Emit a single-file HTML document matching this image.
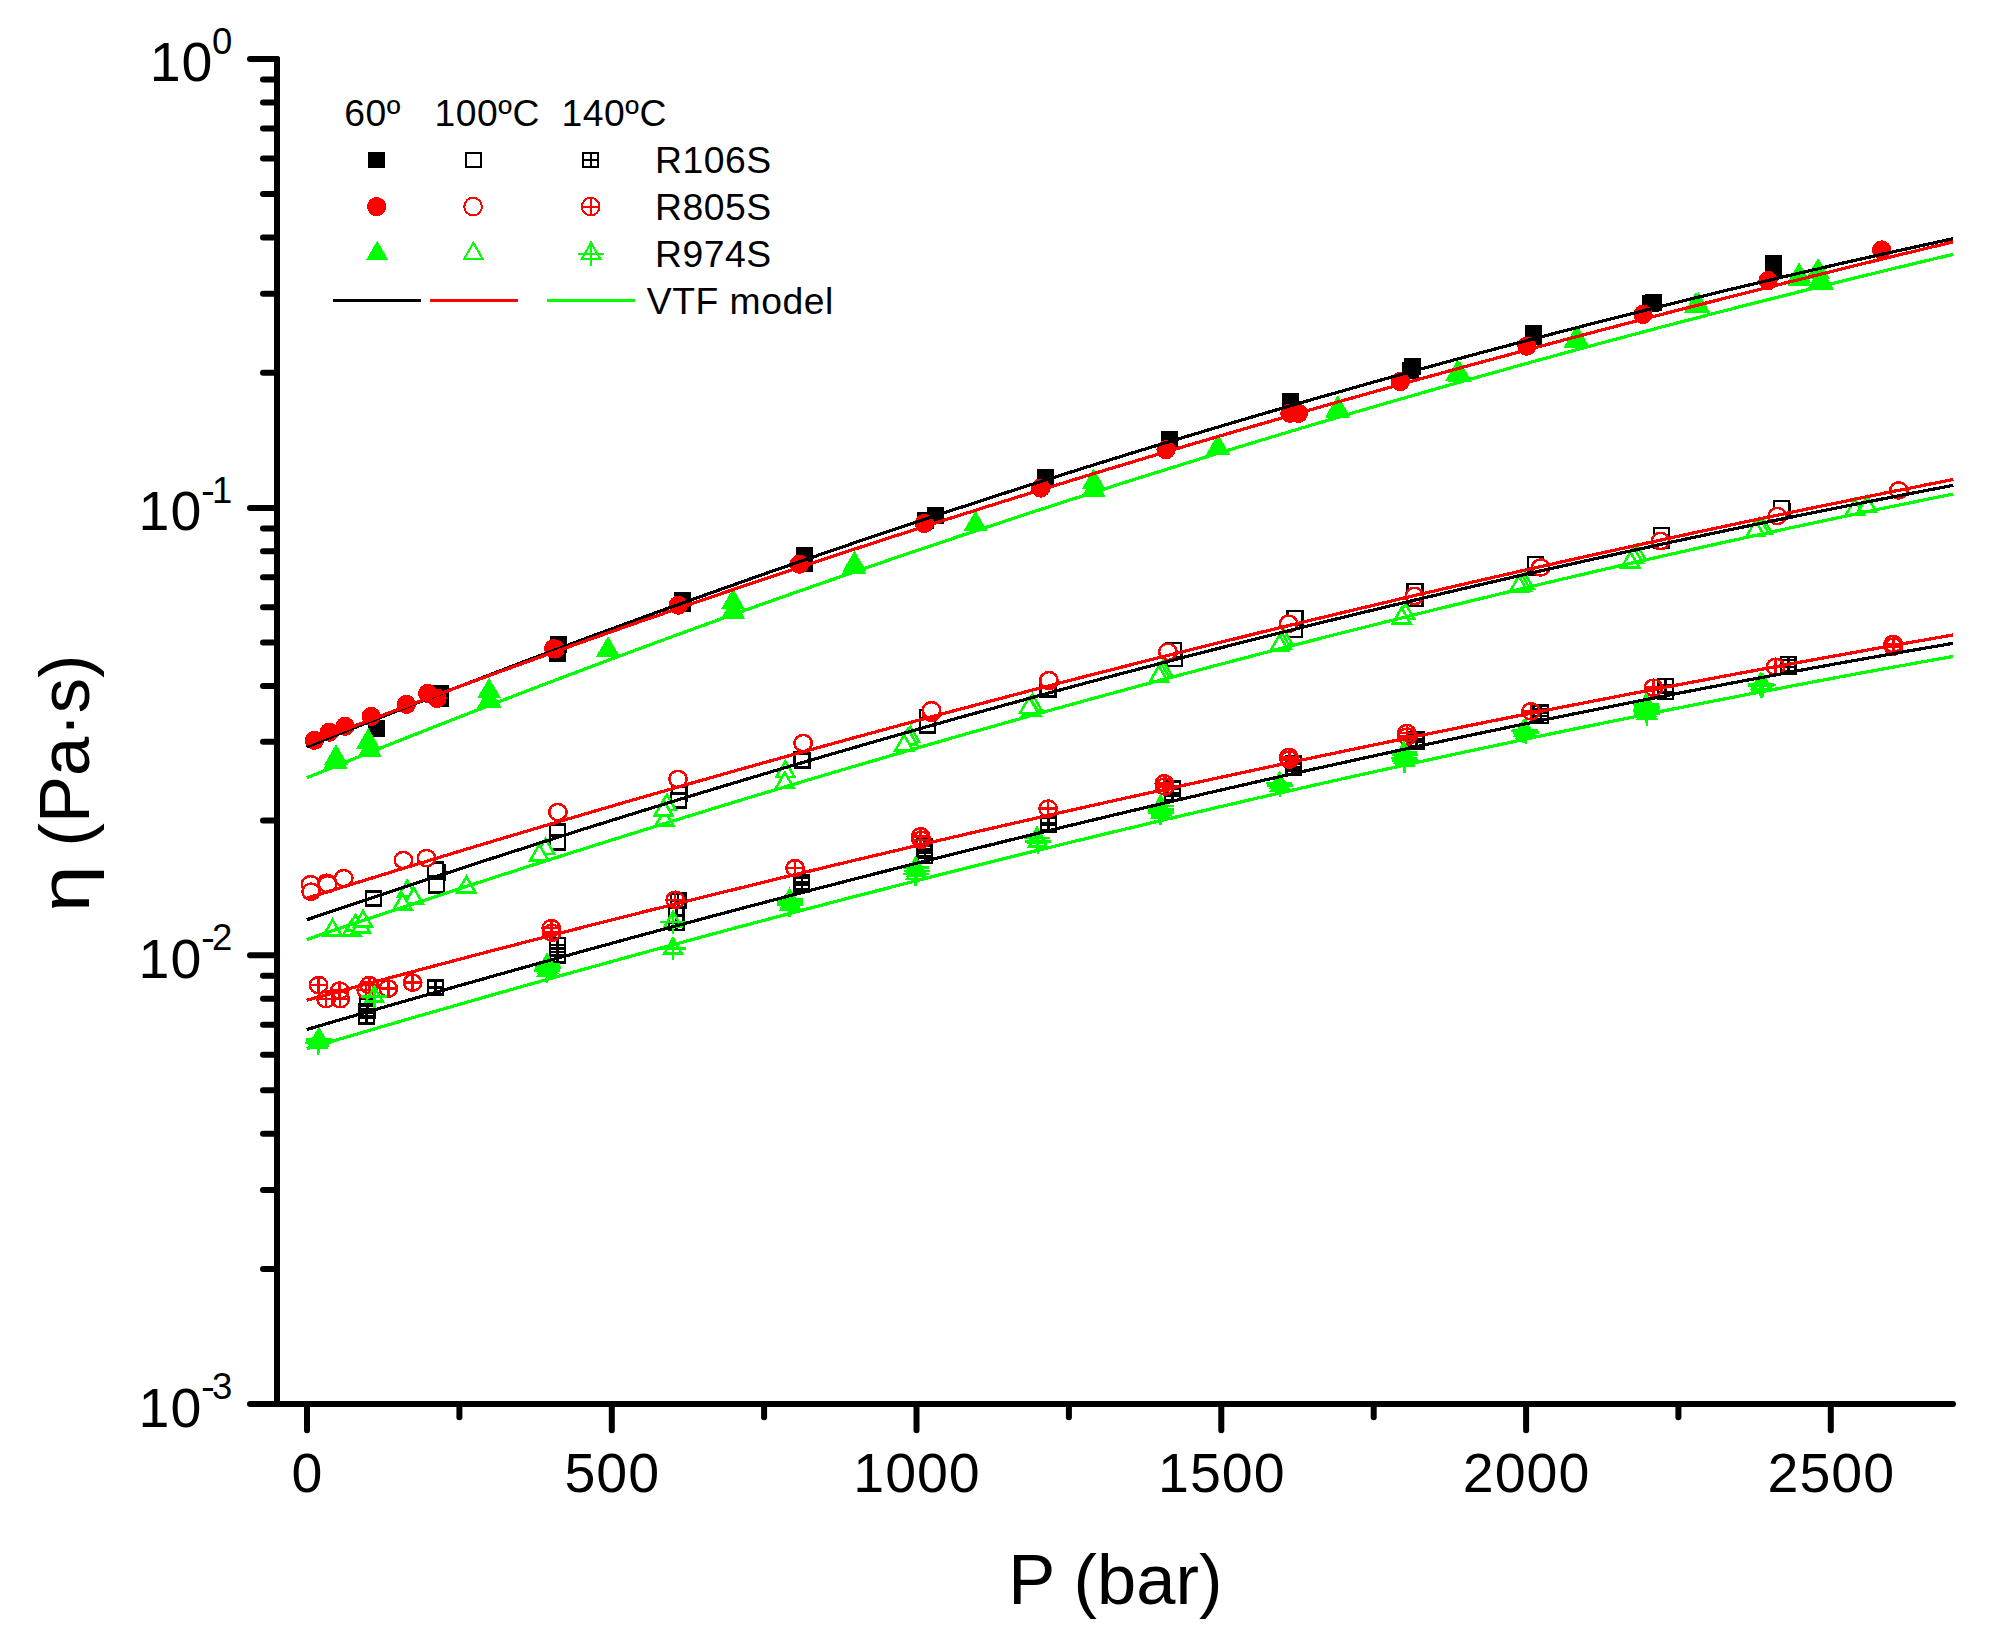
<!DOCTYPE html>
<html><head><meta charset="utf-8"><title>Viscosity vs pressure</title>
<style>html,body{margin:0;padding:0;background:#fff}svg{display:block}</style></head>
<body>
<svg width="1994" height="1634" viewBox="0 0 1994 1634" style="display:block">
<rect width="1994" height="1634" fill="#fff"/>
<g shape-rendering="crispEdges">
<g fill="#000" stroke="none"><rect x="368.0" y="720.3" width="17.0" height="16.5"/><rect x="432.1" y="685.1" width="17.0" height="16.5"/><rect x="432.1" y="690.5" width="17.0" height="16.5"/><rect x="550.1" y="636.1" width="17.0" height="16.5"/><rect x="549.2" y="645.4" width="17.0" height="16.5"/><rect x="673.5" y="591.9" width="17.0" height="16.5"/><rect x="673.5" y="595.7" width="17.0" height="16.5"/><rect x="796.0" y="547.0" width="17.0" height="16.5"/><rect x="796.0" y="555.5" width="17.0" height="16.5"/><rect x="927.1" y="507.1" width="17.0" height="16.5"/><rect x="916.7" y="512.2" width="17.0" height="16.5"/><rect x="1037.0" y="469.3" width="17.0" height="16.5"/><rect x="1160.6" y="431.1" width="17.0" height="16.5"/><rect x="1281.6" y="393.0" width="17.0" height="16.5"/><rect x="1403.6" y="358.2" width="17.0" height="16.5"/><rect x="1401.7" y="362.1" width="17.0" height="16.5"/><rect x="1524.5" y="324.9" width="17.0" height="16.5"/><rect x="1524.5" y="328.1" width="17.0" height="16.5"/><rect x="1645.4" y="294.1" width="17.0" height="16.5"/><rect x="1642.0" y="295.1" width="17.0" height="16.5"/><rect x="1765.0" y="255.0" width="17.0" height="16.5"/><rect x="1765.0" y="260.4" width="17.0" height="16.5"/></g>
<g fill="#f00" stroke="none"><circle cx="314.4" cy="740.3" r="9.6"/><circle cx="329.3" cy="732.2" r="9.6"/><circle cx="345.1" cy="726.3" r="9.6"/><circle cx="371.2" cy="716.4" r="9.6"/><circle cx="406.4" cy="704.4" r="9.6"/><circle cx="427.7" cy="693.4" r="9.6"/><circle cx="437.1" cy="698.4" r="9.6"/><circle cx="553.6" cy="648.6" r="9.6"/><circle cx="555.2" cy="649.0" r="9.6"/><circle cx="678.2" cy="605.2" r="9.6"/><circle cx="799.4" cy="564.2" r="9.6"/><circle cx="924.3" cy="523.5" r="9.6"/><circle cx="1040.6" cy="488.1" r="9.6"/><circle cx="1166.0" cy="449.7" r="9.6"/><circle cx="1289.8" cy="413.3" r="9.6"/><circle cx="1298.5" cy="413.3" r="9.6"/><circle cx="1400.4" cy="381.5" r="9.6"/><circle cx="1526.9" cy="346.1" r="9.6"/><circle cx="1643.0" cy="314.4" r="9.6"/><circle cx="1768.0" cy="280.6" r="9.6"/><circle cx="1881.6" cy="249.9" r="9.6"/></g>
<g fill="#0f0" stroke="none"><path d="M336.0 744.1 L348.0 764.9 H324.0 Z"/><path d="M335.5 747.9 L347.5 768.7 H323.5 Z"/><path d="M368.2 727.9 L380.2 748.7 H356.2 Z"/><path d="M369.7 736.2 L381.7 757.0 H357.7 Z"/><path d="M489.1 677.6 L501.1 698.4 H477.1 Z"/><path d="M489.3 686.7 L501.3 707.5 H477.3 Z"/><path d="M608.0 636.0 L620.0 656.8 H596.0 Z"/><path d="M733.0 588.4 L745.0 609.2 H721.0 Z"/><path d="M733.0 597.7 L745.0 618.5 H721.0 Z"/><path d="M854.5 550.6 L866.5 571.4 H842.5 Z"/><path d="M854.0 553.1 L866.0 573.9 H842.0 Z"/><path d="M975.5 510.4 L987.5 531.2 H963.5 Z"/><path d="M1093.6 468.5 L1105.6 489.3 H1081.6 Z"/><path d="M1093.6 476.0 L1105.6 496.8 H1081.6 Z"/><path d="M1218.0 433.9 L1230.0 454.7 H1206.0 Z"/><path d="M1337.8 395.1 L1349.8 415.9 H1325.8 Z"/><path d="M1337.8 396.7 L1349.8 417.5 H1325.8 Z"/><path d="M1457.5 359.7 L1469.5 380.5 H1445.5 Z"/><path d="M1460.0 361.0 L1472.0 381.8 H1448.0 Z"/><path d="M1575.3 327.3 L1587.3 348.1 H1563.3 Z"/><path d="M1578.3 327.3 L1590.3 348.1 H1566.3 Z"/><path d="M1695.8 292.1 L1707.8 312.9 H1683.8 Z"/><path d="M1698.4 292.1 L1710.4 312.9 H1686.4 Z"/><path d="M1799.1 262.4 L1811.1 283.2 H1787.1 Z"/><path d="M1799.1 265.6 L1811.1 286.4 H1787.1 Z"/><path d="M1818.1 257.8 L1830.1 278.6 H1806.1 Z"/><path d="M1819.0 268.9 L1831.0 289.7 H1807.0 Z"/><path d="M1822.0 268.9 L1834.0 289.7 H1810.0 Z"/></g>
<g fill="#fff" stroke="#000" stroke-width="2.5"><rect x="366.1" y="891.5" width="14.7" height="14.0"/><rect x="430.1" y="865.5" width="14.7" height="14.0"/><rect x="428.1" y="862.4" width="14.7" height="14.0"/><rect x="429.1" y="878.7" width="14.7" height="14.0"/><rect x="550.2" y="824.4" width="14.7" height="14.0"/><rect x="550.2" y="835.5" width="14.7" height="14.0"/><rect x="671.8" y="786.7" width="14.7" height="14.0"/><rect x="671.2" y="793.7" width="14.7" height="14.0"/><rect x="794.1" y="752.2" width="14.7" height="14.0"/><rect x="795.0" y="753.4" width="14.7" height="14.0"/><rect x="920.1" y="710.2" width="14.7" height="14.0"/><rect x="920.1" y="718.6" width="14.7" height="14.0"/><rect x="1040.7" y="681.4" width="14.7" height="14.0"/><rect x="1040.7" y="682.6" width="14.7" height="14.0"/><rect x="1167.1" y="651.8" width="14.7" height="14.0"/><rect x="1166.2" y="643.1" width="14.7" height="14.0"/><rect x="1287.1" y="622.8" width="14.7" height="14.0"/><rect x="1287.6" y="611.1" width="14.7" height="14.0"/><rect x="1407.6" y="591.8" width="14.7" height="14.0"/><rect x="1407.6" y="584.2" width="14.7" height="14.0"/><rect x="1528.2" y="560.3" width="14.7" height="14.0"/><rect x="1528.2" y="557.2" width="14.7" height="14.0"/><rect x="1654.2" y="533.8" width="14.7" height="14.0"/><rect x="1654.2" y="528.1" width="14.7" height="14.0"/><rect x="1774.7" y="504.0" width="14.7" height="14.0"/><rect x="1774.2" y="501.2" width="14.7" height="14.0"/></g>
<g fill="#fff" stroke="#f00" stroke-width="2.5"><ellipse cx="310.6" cy="884.2" rx="8.7" ry="8.1"/><ellipse cx="311.1" cy="891.7" rx="8.7" ry="8.1"/><ellipse cx="326.6" cy="882.7" rx="8.7" ry="8.1"/><ellipse cx="327.6" cy="884.2" rx="8.7" ry="8.1"/><ellipse cx="343.7" cy="878.2" rx="8.7" ry="8.1"/><ellipse cx="403.4" cy="860.1" rx="8.7" ry="8.1"/><ellipse cx="426.5" cy="858.1" rx="8.7" ry="8.1"/><ellipse cx="557.9" cy="812.1" rx="8.7" ry="8.1"/><ellipse cx="678.0" cy="779.0" rx="8.7" ry="8.1"/><ellipse cx="803.1" cy="743.1" rx="8.7" ry="8.1"/><ellipse cx="931.5" cy="712.8" rx="8.7" ry="8.1"/><ellipse cx="931.5" cy="710.2" rx="8.7" ry="8.1"/><ellipse cx="1048.9" cy="681.2" rx="8.7" ry="8.1"/><ellipse cx="1048.9" cy="680.2" rx="8.7" ry="8.1"/><ellipse cx="1167.9" cy="651.8" rx="8.7" ry="8.1"/><ellipse cx="1288.6" cy="623.7" rx="8.7" ry="8.1"/><ellipse cx="1414.5" cy="596.0" rx="8.7" ry="8.1"/><ellipse cx="1540.6" cy="567.5" rx="8.7" ry="8.1"/><ellipse cx="1660.5" cy="541.0" rx="8.7" ry="8.1"/><ellipse cx="1777.3" cy="516.0" rx="8.7" ry="8.1"/><ellipse cx="1898.8" cy="490.4" rx="8.7" ry="8.1"/></g>
<g fill="#fff" stroke="#0f0" stroke-width="2.5"><path d="M332.5 919.9 L341.5 935.5 H323.5 Z"/><path d="M351.7 920.1 L360.7 935.7 H342.7 Z"/><path d="M355.5 915.1 L364.5 930.7 H346.5 Z"/><path d="M361.0 917.1 L370.0 932.7 H352.0 Z"/><path d="M363.0 911.1 L372.0 926.7 H354.0 Z"/><path d="M407.2 880.7 L416.2 896.3 H398.2 Z"/><path d="M413.9 888.1 L422.9 903.7 H404.9 Z"/><path d="M402.6 894.0 L411.6 909.6 H393.6 Z"/><path d="M466.4 876.8 L475.4 892.4 H457.4 Z"/><path d="M545.5 838.6 L554.4 854.2 H536.5 Z"/><path d="M539.2 844.7 L548.2 860.3 H530.3 Z"/><path d="M664.5 810.1 L673.5 825.7 H655.5 Z"/><path d="M666.9 794.6 L675.9 810.2 H657.9 Z"/><path d="M663.5 800.1 L672.5 815.7 H654.5 Z"/><path d="M785.4 761.3 L794.4 776.9 H776.4 Z"/><path d="M784.9 772.5 L793.9 788.1 H775.9 Z"/><path d="M910.4 726.6 L919.4 742.2 H901.4 Z"/><path d="M907.8 728.8 L916.8 744.4 H898.8 Z"/><path d="M904.2 735.0 L913.2 750.6 H895.2 Z"/><path d="M1032.5 694.4 L1041.5 710.0 H1023.5 Z"/><path d="M1031.5 699.9 L1040.5 715.5 H1022.5 Z"/><path d="M1029.1 697.3 L1038.1 712.9 H1020.1 Z"/><path d="M1163.1 660.6 L1172.1 676.2 H1154.1 Z"/><path d="M1160.8 662.6 L1169.8 678.2 H1151.8 Z"/><path d="M1159.0 666.1 L1167.9 681.7 H1150.0 Z"/><path d="M1284.5 630.6 L1293.5 646.2 H1275.5 Z"/><path d="M1282.0 632.8 L1291.0 648.4 H1273.0 Z"/><path d="M1279.5 635.1 L1288.5 650.7 H1270.5 Z"/><path d="M1405.5 603.6 L1414.5 619.2 H1396.5 Z"/><path d="M1401.6 607.9 L1410.6 623.5 H1392.6 Z"/><path d="M1525.0 573.6 L1534.0 589.2 H1516.0 Z"/><path d="M1522.0 574.8 L1531.0 590.4 H1513.0 Z"/><path d="M1518.9 576.1 L1527.9 591.7 H1509.9 Z"/><path d="M1636.9 544.6 L1645.9 560.2 H1627.9 Z"/><path d="M1633.5 546.8 L1642.5 562.4 H1624.5 Z"/><path d="M1630.4 552.1 L1639.4 567.7 H1621.4 Z"/><path d="M1763.4 518.6 L1772.4 534.2 H1754.4 Z"/><path d="M1759.9 518.2 L1768.9 533.8 H1750.9 Z"/><path d="M1755.6 520.6 L1764.6 536.2 H1746.6 Z"/><path d="M1854.8 499.4 L1863.8 515.0 H1845.8 Z"/><path d="M1867.1 496.1 L1876.1 511.7 H1858.1 Z"/></g>
<g fill="none" stroke="#000" stroke-width="2.5"><rect x="428.2" y="980.5" width="14.7" height="14.0"/><path d="M428.2 987.5 h14.7 M435.6 980.5 v14.0"/><rect x="359.1" y="1009.5" width="14.7" height="14.0"/><path d="M359.1 1016.5 h14.7 M366.5 1009.5 v14.0"/><rect x="360.1" y="998.7" width="14.7" height="14.0"/><path d="M360.1 1005.7 h14.7 M367.5 998.7 v14.0"/><rect x="359.6" y="1004.0" width="14.7" height="14.0"/><path d="M359.6 1011.0 h14.7 M367.0 1004.0 v14.0"/><rect x="550.1" y="938.2" width="14.7" height="14.0"/><path d="M550.1 945.2 h14.7 M557.5 938.2 v14.0"/><rect x="550.1" y="948.7" width="14.7" height="14.0"/><path d="M550.1 955.7 h14.7 M557.5 948.7 v14.0"/><rect x="670.8" y="893.3" width="14.7" height="14.0"/><path d="M670.8 900.3 h14.7 M678.1 893.3 v14.0"/><rect x="669.0" y="916.0" width="14.7" height="14.0"/><path d="M669.0 923.0 h14.7 M676.4 916.0 v14.0"/><rect x="669.0" y="908.2" width="14.7" height="14.0"/><path d="M669.0 915.2 h14.7 M676.4 908.2 v14.0"/><rect x="794.5" y="874.9" width="14.7" height="14.0"/><path d="M794.5 881.9 h14.7 M801.9 874.9 v14.0"/><rect x="794.5" y="877.4" width="14.7" height="14.0"/><path d="M794.5 884.4 h14.7 M801.9 877.4 v14.0"/><rect x="916.9" y="839.0" width="14.7" height="14.0"/><path d="M916.9 846.0 h14.7 M924.3 839.0 v14.0"/><rect x="917.4" y="844.0" width="14.7" height="14.0"/><path d="M917.4 851.0 h14.7 M924.8 844.0 v14.0"/><rect x="917.4" y="848.8" width="14.7" height="14.0"/><path d="M917.4 855.8 h14.7 M924.8 848.8 v14.0"/><rect x="1041.2" y="815.8" width="14.7" height="14.0"/><path d="M1041.2 822.8 h14.7 M1048.6 815.8 v14.0"/><rect x="1041.2" y="817.8" width="14.7" height="14.0"/><path d="M1041.2 824.8 h14.7 M1048.6 817.8 v14.0"/><rect x="1165.2" y="781.6" width="14.7" height="14.0"/><path d="M1165.2 788.6 h14.7 M1172.6 781.6 v14.0"/><rect x="1165.2" y="786.1" width="14.7" height="14.0"/><path d="M1165.2 793.1 h14.7 M1172.6 786.1 v14.0"/><rect x="1286.5" y="756.5" width="14.7" height="14.0"/><path d="M1286.5 763.5 h14.7 M1293.8 756.5 v14.0"/><rect x="1286.5" y="760.5" width="14.7" height="14.0"/><path d="M1286.5 767.5 h14.7 M1293.8 760.5 v14.0"/><rect x="1409.0" y="732.4" width="14.7" height="14.0"/><path d="M1409.0 739.4 h14.7 M1416.3 732.4 v14.0"/><rect x="1409.0" y="734.5" width="14.7" height="14.0"/><path d="M1409.0 741.5 h14.7 M1416.3 734.5 v14.0"/><rect x="1533.5" y="705.5" width="14.7" height="14.0"/><path d="M1533.5 712.5 h14.7 M1540.8 705.5 v14.0"/><rect x="1533.5" y="708.9" width="14.7" height="14.0"/><path d="M1533.5 715.9 h14.7 M1540.8 708.9 v14.0"/><rect x="1658.1" y="679.0" width="14.7" height="14.0"/><path d="M1658.1 686.0 h14.7 M1665.4 679.0 v14.0"/><rect x="1658.1" y="685.0" width="14.7" height="14.0"/><path d="M1658.1 692.0 h14.7 M1665.4 685.0 v14.0"/><rect x="1781.0" y="657.2" width="14.7" height="14.0"/><path d="M1781.0 664.2 h14.7 M1788.3 657.2 v14.0"/><rect x="1781.0" y="659.8" width="14.7" height="14.0"/><path d="M1781.0 666.8 h14.7 M1788.3 659.8 v14.0"/></g>
<g fill="none" stroke="#f00" stroke-width="2.5"><ellipse cx="318.6" cy="985.1" rx="8.7" ry="8.1"/><path d="M309.9 985.1 h17.4 M318.6 977.0 v16.2"/><ellipse cx="339.7" cy="990.6" rx="8.7" ry="8.1"/><path d="M331.0 990.6 h17.4 M339.7 982.5 v16.2"/><ellipse cx="326.1" cy="999.2" rx="8.7" ry="8.1"/><path d="M317.4 999.2 h17.4 M326.1 991.1 v16.2"/><ellipse cx="340.2" cy="999.2" rx="8.7" ry="8.1"/><path d="M331.5 999.2 h17.4 M340.2 991.1 v16.2"/><ellipse cx="369.3" cy="985.1" rx="8.7" ry="8.1"/><path d="M360.6 985.1 h17.4 M369.3 977.0 v16.2"/><ellipse cx="366.2" cy="990.1" rx="8.7" ry="8.1"/><path d="M357.5 990.1 h17.4 M366.2 982.0 v16.2"/><ellipse cx="388.3" cy="988.6" rx="8.7" ry="8.1"/><path d="M379.6 988.6 h17.4 M388.3 980.5 v16.2"/><ellipse cx="412.6" cy="982.6" rx="8.7" ry="8.1"/><path d="M403.9 982.6 h17.4 M412.6 974.5 v16.2"/><ellipse cx="551.3" cy="928.2" rx="8.7" ry="8.1"/><path d="M542.6 928.2 h17.4 M551.3 920.1 v16.2"/><ellipse cx="551.7" cy="932.7" rx="8.7" ry="8.1"/><path d="M543.0 932.7 h17.4 M551.7 924.6 v16.2"/><ellipse cx="675.2" cy="899.8" rx="8.7" ry="8.1"/><path d="M666.5 899.8 h17.4 M675.2 891.7 v16.2"/><ellipse cx="795.1" cy="868.2" rx="8.7" ry="8.1"/><path d="M786.4 868.2 h17.4 M795.1 860.1 v16.2"/><ellipse cx="920.7" cy="836.3" rx="8.7" ry="8.1"/><path d="M912.0 836.3 h17.4 M920.7 828.2 v16.2"/><ellipse cx="921.1" cy="839.8" rx="8.7" ry="8.1"/><path d="M912.4 839.8 h17.4 M921.1 831.7 v16.2"/><ellipse cx="1048.1" cy="808.6" rx="8.7" ry="8.1"/><path d="M1039.4 808.6 h17.4 M1048.1 800.5 v16.2"/><ellipse cx="1164.3" cy="783.3" rx="8.7" ry="8.1"/><path d="M1155.6 783.3 h17.4 M1164.3 775.2 v16.2"/><ellipse cx="1164.7" cy="786.5" rx="8.7" ry="8.1"/><path d="M1156.0 786.5 h17.4 M1164.7 778.4 v16.2"/><ellipse cx="1288.9" cy="757.0" rx="8.7" ry="8.1"/><path d="M1280.2 757.0 h17.4 M1288.9 748.9 v16.2"/><ellipse cx="1289.3" cy="759.6" rx="8.7" ry="8.1"/><path d="M1280.6 759.6 h17.4 M1289.3 751.5 v16.2"/><ellipse cx="1406.8" cy="733.0" rx="8.7" ry="8.1"/><path d="M1398.1 733.0 h17.4 M1406.8 724.9 v16.2"/><ellipse cx="1407.2" cy="736.6" rx="8.7" ry="8.1"/><path d="M1398.5 736.6 h17.4 M1407.2 728.5 v16.2"/><ellipse cx="1531.0" cy="711.3" rx="8.7" ry="8.1"/><path d="M1522.3 711.3 h17.4 M1531.0 703.2 v16.2"/><ellipse cx="1653.5" cy="687.7" rx="8.7" ry="8.1"/><path d="M1644.8 687.7 h17.4 M1653.5 679.6 v16.2"/><ellipse cx="1775.6" cy="666.8" rx="8.7" ry="8.1"/><path d="M1766.9 666.8 h17.4 M1775.6 658.7 v16.2"/><ellipse cx="1893.1" cy="644.0" rx="8.7" ry="8.1"/><path d="M1884.4 644.0 h17.4 M1893.1 635.9 v16.2"/><ellipse cx="1893.5" cy="646.6" rx="8.7" ry="8.1"/><path d="M1884.8 646.6 h17.4 M1893.5 638.5 v16.2"/></g>
<g fill="none" stroke="#0f0" stroke-width="2.5"><path d="M374.3 986.8 L382.9 1001.7 H365.7 Z"/><path d="M361.3 996.7 h26 M374.3 985.8 V1008.7"/><path d="M318.9 1028.9 L327.5 1043.8 H310.3 Z"/><path d="M305.9 1038.8 h26 M318.9 1027.9 V1050.8"/><path d="M318.9 1031.0 L327.5 1045.9 H310.3 Z"/><path d="M305.9 1040.9 h26 M318.9 1030.0 V1052.9"/><path d="M318.2 1033.2 L326.8 1048.1 H309.6 Z"/><path d="M305.2 1043.1 h26 M318.2 1032.2 V1055.1"/><path d="M547.1 954.6 L555.7 969.5 H538.5 Z"/><path d="M534.1 964.5 h26 M547.1 953.6 V976.5"/><path d="M547.9 957.6 L556.5 972.5 H539.3 Z"/><path d="M534.9 967.5 h26 M547.9 956.6 V979.5"/><path d="M547.1 960.6 L555.7 975.5 H538.5 Z"/><path d="M534.1 970.5 h26 M547.1 959.6 V982.5"/><path d="M673.0 911.9 L681.6 926.8 H664.4 Z"/><path d="M660.0 921.8 h26 M673.0 910.9 V933.8"/><path d="M673.0 938.4 L681.6 953.3 H664.4 Z"/><path d="M660.0 948.3 h26 M673.0 937.4 V960.3"/><path d="M789.6 889.7 L798.2 904.6 H781.0 Z"/><path d="M776.6 899.6 h26 M789.6 888.7 V911.6"/><path d="M790.4 892.5 L799.0 907.4 H781.8 Z"/><path d="M777.4 902.4 h26 M790.4 891.5 V914.4"/><path d="M789.6 895.3 L798.2 910.2 H781.0 Z"/><path d="M776.6 905.2 h26 M789.6 894.3 V917.2"/><path d="M915.7 857.8 L924.3 872.7 H907.1 Z"/><path d="M902.7 867.7 h26 M915.7 856.8 V879.7"/><path d="M916.5 860.9 L925.1 875.8 H907.9 Z"/><path d="M903.5 870.9 h26 M916.5 859.9 V882.9"/><path d="M915.7 864.1 L924.3 879.0 H907.1 Z"/><path d="M902.7 874.0 h26 M915.7 863.1 V886.0"/><path d="M1037.0 827.9 L1045.6 842.8 H1028.4 Z"/><path d="M1024.0 837.8 h26 M1037.0 826.9 V849.8"/><path d="M1037.8 831.8 L1046.4 846.7 H1029.2 Z"/><path d="M1024.8 841.7 h26 M1037.8 830.8 V853.7"/><path d="M1160.6 796.3 L1169.2 811.2 H1152.0 Z"/><path d="M1147.6 806.2 h26 M1160.6 795.3 V818.2"/><path d="M1161.4 799.4 L1170.0 814.3 H1152.8 Z"/><path d="M1148.4 809.4 h26 M1161.4 798.4 V821.4"/><path d="M1160.6 802.6 L1169.2 817.5 H1152.0 Z"/><path d="M1147.6 812.5 h26 M1160.6 801.6 V824.5"/><path d="M1279.3 773.2 L1287.9 788.1 H1270.7 Z"/><path d="M1266.3 783.1 h26 M1279.3 772.2 V795.1"/><path d="M1280.1 775.5 L1288.7 790.4 H1271.5 Z"/><path d="M1267.1 785.4 h26 M1280.1 774.5 V797.4"/><path d="M1403.9 742.5 L1412.5 757.4 H1395.3 Z"/><path d="M1390.9 752.4 h26 M1403.9 741.5 V764.4"/><path d="M1404.7 745.2 L1413.3 760.1 H1396.1 Z"/><path d="M1391.7 755.1 h26 M1404.7 744.2 V767.1"/><path d="M1403.9 748.0 L1412.5 762.8 H1395.3 Z"/><path d="M1390.9 757.9 h26 M1403.9 747.0 V769.9"/><path d="M1404.7 750.7 L1413.3 765.6 H1396.1 Z"/><path d="M1391.7 760.6 h26 M1404.7 749.7 V772.6"/><path d="M1525.0 720.3 L1533.6 735.2 H1516.4 Z"/><path d="M1512.0 730.2 h26 M1525.0 719.3 V742.2"/><path d="M1525.8 722.5 L1534.4 737.4 H1517.2 Z"/><path d="M1512.8 732.4 h26 M1525.8 721.5 V744.4"/><path d="M1523.5 721.1 L1532.1 736.0 H1514.9 Z"/><path d="M1510.5 731.0 h26 M1523.5 720.1 V743.0"/><path d="M1646.2 694.7 L1654.8 709.6 H1637.6 Z"/><path d="M1633.2 704.6 h26 M1646.2 693.7 V716.6"/><path d="M1647.0 697.7 L1655.6 712.6 H1638.4 Z"/><path d="M1634.0 707.6 h26 M1647.0 696.7 V719.6"/><path d="M1646.2 700.7 L1654.8 715.6 H1637.6 Z"/><path d="M1633.2 710.6 h26 M1646.2 699.7 V722.6"/><path d="M1647.0 703.7 L1655.6 718.6 H1638.4 Z"/><path d="M1634.0 713.6 h26 M1647.0 702.7 V725.6"/><path d="M1760.6 674.2 L1769.2 689.1 H1752.0 Z"/><path d="M1747.6 684.1 h26 M1760.6 673.2 V696.1"/><path d="M1761.4 675.6 L1770.0 690.5 H1752.8 Z"/><path d="M1748.4 685.5 h26 M1761.4 674.6 V697.5"/><path d="M1763.0 674.9 L1771.6 689.8 H1754.4 Z"/><path d="M1750.0 684.8 h26 M1763.0 673.9 V696.8"/></g>
<path d="M306.7 747.0 L318.5 742.2 L330.4 737.4 L342.2 732.7 L354.1 727.9 L365.9 723.2 L377.8 718.5 L389.6 713.8 L401.5 709.1 L413.3 704.4 L425.2 699.8 L437.0 695.2 L448.9 690.5 L460.7 686.0 L472.5 681.4 L484.4 676.8 L496.2 672.3 L508.1 667.7 L519.9 663.2 L531.8 658.7 L543.6 654.3 L555.5 649.8 L567.3 645.4 L579.2 640.9 L591.0 636.5 L602.9 632.1 L614.7 627.8 L626.5 623.4 L638.4 619.1 L650.2 614.7 L662.1 610.4 L673.9 606.2 L685.8 601.9 L697.6 597.6 L709.5 593.4 L721.3 589.2 L733.2 585.0 L745.0 580.8 L756.8 576.6 L768.7 572.4 L780.5 568.3 L792.4 564.2 L804.2 560.1 L816.1 556.0 L827.9 551.9 L839.8 547.9 L851.6 543.8 L863.5 539.8 L875.3 535.8 L887.2 531.8 L899.0 527.8 L910.8 523.9 L922.7 519.9 L934.5 516.0 L946.4 512.1 L958.2 508.2 L970.1 504.4 L981.9 500.5 L993.8 496.7 L1005.6 492.8 L1017.5 489.0 L1029.3 485.2 L1041.2 481.5 L1053.0 477.7 L1064.8 474.0 L1076.7 470.2 L1088.5 466.5 L1100.4 462.8 L1112.2 459.2 L1124.1 455.5 L1135.9 451.8 L1147.8 448.2 L1159.6 444.6 L1171.5 441.0 L1183.3 437.4 L1195.2 433.9 L1207.0 430.3 L1218.8 426.8 L1230.7 423.3 L1242.5 419.8 L1254.4 416.3 L1266.2 412.8 L1278.1 409.4 L1289.9 405.9 L1301.8 402.5 L1313.6 399.1 L1325.5 395.7 L1337.3 392.4 L1349.2 389.0 L1361.0 385.7 L1372.8 382.3 L1384.7 379.0 L1396.5 375.7 L1408.4 372.5 L1420.2 369.2 L1432.1 366.0 L1443.9 362.7 L1455.8 359.5 L1467.6 356.3 L1479.5 353.1 L1491.3 350.0 L1503.2 346.8 L1515.0 343.7 L1526.8 340.6 L1538.7 337.5 L1550.5 334.4 L1562.4 331.3 L1574.2 328.3 L1586.1 325.2 L1597.9 322.2 L1609.8 319.2 L1621.6 316.2 L1633.5 313.2 L1645.3 310.2 L1657.1 307.3 L1669.0 304.4 L1680.8 301.4 L1692.7 298.5 L1704.5 295.7 L1716.4 292.8 L1728.2 289.9 L1740.1 287.1 L1751.9 284.3 L1763.8 281.5 L1775.6 278.7 L1787.5 275.9 L1799.3 273.1 L1811.1 270.4 L1823.0 267.7 L1834.8 264.9 L1846.7 262.2 L1858.5 259.6 L1870.4 256.9 L1882.2 254.2 L1894.1 251.6 L1905.9 249.0 L1917.8 246.4 L1929.6 243.8 L1941.5 241.2 L1953.3 238.6" fill="none" stroke="#000" stroke-width="3.2"/>
<path d="M306.7 744.3 L318.5 739.7 L330.4 735.2 L342.2 730.6 L354.1 726.1 L365.9 721.6 L377.8 717.1 L389.6 712.6 L401.5 708.1 L413.3 703.7 L425.2 699.3 L437.0 694.8 L448.9 690.4 L460.7 686.1 L472.5 681.7 L484.4 677.3 L496.2 673.0 L508.1 668.7 L519.9 664.4 L531.8 660.1 L543.6 655.8 L555.5 651.6 L567.3 647.3 L579.2 643.1 L591.0 638.9 L602.9 634.7 L614.7 630.5 L626.5 626.4 L638.4 622.2 L650.2 618.1 L662.1 614.0 L673.9 609.8 L685.8 605.8 L697.6 601.7 L709.5 597.6 L721.3 593.6 L733.2 589.6 L745.0 585.5 L756.8 581.5 L768.7 577.6 L780.5 573.6 L792.4 569.6 L804.2 565.7 L816.1 561.8 L827.9 557.8 L839.8 553.9 L851.6 550.1 L863.5 546.2 L875.3 542.3 L887.2 538.5 L899.0 534.7 L910.8 530.8 L922.7 527.0 L934.5 523.3 L946.4 519.5 L958.2 515.7 L970.1 512.0 L981.9 508.2 L993.8 504.5 L1005.6 500.8 L1017.5 497.1 L1029.3 493.4 L1041.2 489.8 L1053.0 486.1 L1064.8 482.5 L1076.7 478.8 L1088.5 475.2 L1100.4 471.6 L1112.2 468.0 L1124.1 464.5 L1135.9 460.9 L1147.8 457.3 L1159.6 453.8 L1171.5 450.3 L1183.3 446.7 L1195.2 443.2 L1207.0 439.8 L1218.8 436.3 L1230.7 432.8 L1242.5 429.4 L1254.4 425.9 L1266.2 422.5 L1278.1 419.1 L1289.9 415.7 L1301.8 412.3 L1313.6 408.9 L1325.5 405.5 L1337.3 402.1 L1349.2 398.8 L1361.0 395.5 L1372.8 392.1 L1384.7 388.8 L1396.5 385.5 L1408.4 382.2 L1420.2 378.9 L1432.1 375.7 L1443.9 372.4 L1455.8 369.2 L1467.6 365.9 L1479.5 362.7 L1491.3 359.5 L1503.2 356.3 L1515.0 353.1 L1526.8 349.9 L1538.7 346.7 L1550.5 343.6 L1562.4 340.4 L1574.2 337.3 L1586.1 334.2 L1597.9 331.0 L1609.8 327.9 L1621.6 324.8 L1633.5 321.7 L1645.3 318.6 L1657.1 315.6 L1669.0 312.5 L1680.8 309.5 L1692.7 306.4 L1704.5 303.4 L1716.4 300.4 L1728.2 297.4 L1740.1 294.4 L1751.9 291.4 L1763.8 288.4 L1775.6 285.4 L1787.5 282.4 L1799.3 279.5 L1811.1 276.5 L1823.0 273.6 L1834.8 270.7 L1846.7 267.7 L1858.5 264.8 L1870.4 261.9 L1882.2 259.0 L1894.1 256.1 L1905.9 253.3 L1917.8 250.4 L1929.6 247.5 L1941.5 244.7 L1953.3 241.8" fill="none" stroke="#f00" stroke-width="3.2"/>
<path d="M306.7 777.9 L318.5 773.1 L330.4 768.3 L342.2 763.5 L354.1 758.7 L365.9 754.0 L377.8 749.2 L389.6 744.5 L401.5 739.8 L413.3 735.1 L425.2 730.4 L437.0 725.8 L448.9 721.2 L460.7 716.5 L472.5 711.9 L484.4 707.3 L496.2 702.7 L508.1 698.2 L519.9 693.6 L531.8 689.1 L543.6 684.6 L555.5 680.1 L567.3 675.6 L579.2 671.2 L591.0 666.7 L602.9 662.3 L614.7 657.9 L626.5 653.5 L638.4 649.1 L650.2 644.7 L662.1 640.4 L673.9 636.0 L685.8 631.7 L697.6 627.4 L709.5 623.1 L721.3 618.8 L733.2 614.6 L745.0 610.3 L756.8 606.1 L768.7 601.9 L780.5 597.7 L792.4 593.5 L804.2 589.4 L816.1 585.2 L827.9 581.1 L839.8 577.0 L851.6 572.9 L863.5 568.8 L875.3 564.7 L887.2 560.6 L899.0 556.6 L910.8 552.6 L922.7 548.6 L934.5 544.6 L946.4 540.6 L958.2 536.6 L970.1 532.7 L981.9 528.7 L993.8 524.8 L1005.6 520.9 L1017.5 517.0 L1029.3 513.1 L1041.2 509.3 L1053.0 505.4 L1064.8 501.6 L1076.7 497.8 L1088.5 494.0 L1100.4 490.2 L1112.2 486.4 L1124.1 482.6 L1135.9 478.9 L1147.8 475.2 L1159.6 471.5 L1171.5 467.8 L1183.3 464.1 L1195.2 460.4 L1207.0 456.7 L1218.8 453.1 L1230.7 449.5 L1242.5 445.9 L1254.4 442.3 L1266.2 438.7 L1278.1 435.1 L1289.9 431.6 L1301.8 428.0 L1313.6 424.5 L1325.5 421.0 L1337.3 417.5 L1349.2 414.0 L1361.0 410.5 L1372.8 407.1 L1384.7 403.6 L1396.5 400.2 L1408.4 396.8 L1420.2 393.4 L1432.1 390.0 L1443.9 386.6 L1455.8 383.3 L1467.6 379.9 L1479.5 376.6 L1491.3 373.3 L1503.2 370.0 L1515.0 366.7 L1526.8 363.4 L1538.7 360.1 L1550.5 356.9 L1562.4 353.6 L1574.2 350.4 L1586.1 347.2 L1597.9 344.0 L1609.8 340.8 L1621.6 337.7 L1633.5 334.5 L1645.3 331.4 L1657.1 328.2 L1669.0 325.1 L1680.8 322.0 L1692.7 318.9 L1704.5 315.9 L1716.4 312.8 L1728.2 309.8 L1740.1 306.7 L1751.9 303.7 L1763.8 300.7 L1775.6 297.7 L1787.5 294.7 L1799.3 291.7 L1811.1 288.8 L1823.0 285.8 L1834.8 282.9 L1846.7 280.0 L1858.5 277.1 L1870.4 274.2 L1882.2 271.3 L1894.1 268.4 L1905.9 265.6 L1917.8 262.8 L1929.6 259.9 L1941.5 257.1 L1953.3 254.3" fill="none" stroke="#0f0" stroke-width="3.2"/>
<path d="M306.7 919.8 L318.5 915.8 L330.4 911.8 L342.2 907.8 L354.1 903.8 L365.9 899.8 L377.8 895.9 L389.6 891.9 L401.5 888.0 L413.3 884.1 L425.2 880.1 L437.0 876.3 L448.9 872.4 L460.7 868.5 L472.5 864.6 L484.4 860.8 L496.2 857.0 L508.1 853.2 L519.9 849.4 L531.8 845.6 L543.6 841.8 L555.5 838.0 L567.3 834.3 L579.2 830.5 L591.0 826.8 L602.9 823.1 L614.7 819.4 L626.5 815.7 L638.4 812.1 L650.2 808.4 L662.1 804.8 L673.9 801.1 L685.8 797.5 L697.6 793.9 L709.5 790.3 L721.3 786.7 L733.2 783.2 L745.0 779.6 L756.8 776.1 L768.7 772.6 L780.5 769.0 L792.4 765.5 L804.2 762.1 L816.1 758.6 L827.9 755.1 L839.8 751.7 L851.6 748.3 L863.5 744.8 L875.3 741.4 L887.2 738.0 L899.0 734.7 L910.8 731.3 L922.7 727.9 L934.5 724.6 L946.4 721.3 L958.2 717.9 L970.1 714.6 L981.9 711.4 L993.8 708.1 L1005.6 704.8 L1017.5 701.6 L1029.3 698.3 L1041.2 695.1 L1053.0 691.9 L1064.8 688.7 L1076.7 685.5 L1088.5 682.3 L1100.4 679.2 L1112.2 676.0 L1124.1 672.9 L1135.9 669.8 L1147.8 666.7 L1159.6 663.6 L1171.5 660.5 L1183.3 657.4 L1195.2 654.4 L1207.0 651.3 L1218.8 648.3 L1230.7 645.3 L1242.5 642.3 L1254.4 639.3 L1266.2 636.3 L1278.1 633.3 L1289.9 630.4 L1301.8 627.5 L1313.6 624.5 L1325.5 621.6 L1337.3 618.7 L1349.2 615.8 L1361.0 612.9 L1372.8 610.1 L1384.7 607.2 L1396.5 604.4 L1408.4 601.6 L1420.2 598.8 L1432.1 596.0 L1443.9 593.2 L1455.8 590.4 L1467.6 587.6 L1479.5 584.9 L1491.3 582.2 L1503.2 579.4 L1515.0 576.7 L1526.8 574.0 L1538.7 571.3 L1550.5 568.7 L1562.4 566.0 L1574.2 563.4 L1586.1 560.7 L1597.9 558.1 L1609.8 555.5 L1621.6 552.9 L1633.5 550.3 L1645.3 547.8 L1657.1 545.2 L1669.0 542.6 L1680.8 540.1 L1692.7 537.6 L1704.5 535.1 L1716.4 532.6 L1728.2 530.1 L1740.1 527.6 L1751.9 525.2 L1763.8 522.7 L1775.6 520.3 L1787.5 517.9 L1799.3 515.5 L1811.1 513.1 L1823.0 510.7 L1834.8 508.3 L1846.7 506.0 L1858.5 503.6 L1870.4 501.3 L1882.2 499.0 L1894.1 496.7 L1905.9 494.4 L1917.8 492.1 L1929.6 489.8 L1941.5 487.6 L1953.3 485.3" fill="none" stroke="#000" stroke-width="3.2"/>
<path d="M306.7 898.3 L318.5 894.6 L330.4 890.9 L342.2 887.2 L354.1 883.5 L365.9 879.9 L377.8 876.2 L389.6 872.6 L401.5 868.9 L413.3 865.3 L425.2 861.7 L437.0 858.1 L448.9 854.5 L460.7 850.9 L472.5 847.3 L484.4 843.8 L496.2 840.2 L508.1 836.7 L519.9 833.2 L531.8 829.6 L543.6 826.1 L555.5 822.6 L567.3 819.1 L579.2 815.7 L591.0 812.2 L602.9 808.7 L614.7 805.3 L626.5 801.8 L638.4 798.4 L650.2 795.0 L662.1 791.6 L673.9 788.2 L685.8 784.8 L697.6 781.4 L709.5 778.1 L721.3 774.7 L733.2 771.3 L745.0 768.0 L756.8 764.7 L768.7 761.4 L780.5 758.1 L792.4 754.8 L804.2 751.5 L816.1 748.2 L827.9 744.9 L839.8 741.7 L851.6 738.4 L863.5 735.2 L875.3 732.0 L887.2 728.7 L899.0 725.5 L910.8 722.3 L922.7 719.2 L934.5 716.0 L946.4 712.8 L958.2 709.6 L970.1 706.5 L981.9 703.4 L993.8 700.2 L1005.6 697.1 L1017.5 694.0 L1029.3 690.9 L1041.2 687.8 L1053.0 684.8 L1064.8 681.7 L1076.7 678.6 L1088.5 675.6 L1100.4 672.5 L1112.2 669.5 L1124.1 666.5 L1135.9 663.5 L1147.8 660.5 L1159.6 657.5 L1171.5 654.5 L1183.3 651.6 L1195.2 648.6 L1207.0 645.6 L1218.8 642.7 L1230.7 639.8 L1242.5 636.9 L1254.4 633.9 L1266.2 631.0 L1278.1 628.2 L1289.9 625.3 L1301.8 622.4 L1313.6 619.5 L1325.5 616.7 L1337.3 613.9 L1349.2 611.0 L1361.0 608.2 L1372.8 605.4 L1384.7 602.6 L1396.5 599.8 L1408.4 597.0 L1420.2 594.2 L1432.1 591.5 L1443.9 588.7 L1455.8 586.0 L1467.6 583.2 L1479.5 580.5 L1491.3 577.8 L1503.2 575.1 L1515.0 572.4 L1526.8 569.7 L1538.7 567.0 L1550.5 564.4 L1562.4 561.7 L1574.2 559.1 L1586.1 556.4 L1597.9 553.8 L1609.8 551.2 L1621.6 548.6 L1633.5 546.0 L1645.3 543.4 L1657.1 540.8 L1669.0 538.3 L1680.8 535.7 L1692.7 533.1 L1704.5 530.6 L1716.4 528.1 L1728.2 525.5 L1740.1 523.0 L1751.9 520.5 L1763.8 518.0 L1775.6 515.6 L1787.5 513.1 L1799.3 510.6 L1811.1 508.2 L1823.0 505.7 L1834.8 503.3 L1846.7 500.9 L1858.5 498.4 L1870.4 496.0 L1882.2 493.6 L1894.1 491.2 L1905.9 488.9 L1917.8 486.5 L1929.6 484.1 L1941.5 481.8 L1953.3 479.4" fill="none" stroke="#f00" stroke-width="3.2"/>
<path d="M306.7 939.5 L318.5 935.5 L330.4 931.5 L342.2 927.5 L354.1 923.5 L365.9 919.6 L377.8 915.6 L389.6 911.7 L401.5 907.8 L413.3 903.9 L425.2 900.0 L437.0 896.1 L448.9 892.2 L460.7 888.3 L472.5 884.5 L484.4 880.6 L496.2 876.8 L508.1 873.0 L519.9 869.2 L531.8 865.4 L543.6 861.6 L555.5 857.8 L567.3 854.0 L579.2 850.3 L591.0 846.5 L602.9 842.8 L614.7 839.1 L626.5 835.4 L638.4 831.7 L650.2 828.0 L662.1 824.3 L673.9 820.7 L685.8 817.0 L697.6 813.4 L709.5 809.7 L721.3 806.1 L733.2 802.5 L745.0 798.9 L756.8 795.3 L768.7 791.8 L780.5 788.2 L792.4 784.7 L804.2 781.1 L816.1 777.6 L827.9 774.1 L839.8 770.6 L851.6 767.1 L863.5 763.6 L875.3 760.2 L887.2 756.7 L899.0 753.3 L910.8 749.8 L922.7 746.4 L934.5 743.0 L946.4 739.6 L958.2 736.2 L970.1 732.8 L981.9 729.5 L993.8 726.1 L1005.6 722.8 L1017.5 719.5 L1029.3 716.1 L1041.2 712.8 L1053.0 709.5 L1064.8 706.3 L1076.7 703.0 L1088.5 699.7 L1100.4 696.5 L1112.2 693.3 L1124.1 690.0 L1135.9 686.8 L1147.8 683.6 L1159.6 680.4 L1171.5 677.3 L1183.3 674.1 L1195.2 671.0 L1207.0 667.8 L1218.8 664.7 L1230.7 661.6 L1242.5 658.5 L1254.4 655.4 L1266.2 652.3 L1278.1 649.2 L1289.9 646.2 L1301.8 643.1 L1313.6 640.1 L1325.5 637.1 L1337.3 634.1 L1349.2 631.1 L1361.0 628.1 L1372.8 625.1 L1384.7 622.1 L1396.5 619.2 L1408.4 616.2 L1420.2 613.3 L1432.1 610.4 L1443.9 607.5 L1455.8 604.6 L1467.6 601.7 L1479.5 598.9 L1491.3 596.0 L1503.2 593.2 L1515.0 590.3 L1526.8 587.5 L1538.7 584.7 L1550.5 581.9 L1562.4 579.1 L1574.2 576.4 L1586.1 573.6 L1597.9 570.8 L1609.8 568.1 L1621.6 565.4 L1633.5 562.7 L1645.3 560.0 L1657.1 557.3 L1669.0 554.6 L1680.8 552.0 L1692.7 549.3 L1704.5 546.7 L1716.4 544.0 L1728.2 541.4 L1740.1 538.8 L1751.9 536.2 L1763.8 533.7 L1775.6 531.1 L1787.5 528.5 L1799.3 526.0 L1811.1 523.5 L1823.0 520.9 L1834.8 518.4 L1846.7 515.9 L1858.5 513.5 L1870.4 511.0 L1882.2 508.5 L1894.1 506.1 L1905.9 503.7 L1917.8 501.2 L1929.6 498.8 L1941.5 496.4 L1953.3 494.1" fill="none" stroke="#0f0" stroke-width="3.2"/>
<path d="M306.7 1029.6 L318.5 1026.1 L330.4 1022.6 L342.2 1019.2 L354.1 1015.8 L365.9 1012.3 L377.8 1008.9 L389.6 1005.5 L401.5 1002.1 L413.3 998.7 L425.2 995.3 L437.0 992.0 L448.9 988.6 L460.7 985.2 L472.5 981.9 L484.4 978.6 L496.2 975.2 L508.1 971.9 L519.9 968.6 L531.8 965.3 L543.6 962.0 L555.5 958.7 L567.3 955.5 L579.2 952.2 L591.0 948.9 L602.9 945.7 L614.7 942.5 L626.5 939.2 L638.4 936.0 L650.2 932.8 L662.1 929.6 L673.9 926.4 L685.8 923.3 L697.6 920.1 L709.5 916.9 L721.3 913.8 L733.2 910.6 L745.0 907.5 L756.8 904.4 L768.7 901.3 L780.5 898.2 L792.4 895.1 L804.2 892.0 L816.1 888.9 L827.9 885.9 L839.8 882.8 L851.6 879.8 L863.5 876.7 L875.3 873.7 L887.2 870.7 L899.0 867.7 L910.8 864.7 L922.7 861.7 L934.5 858.8 L946.4 855.8 L958.2 852.9 L970.1 849.9 L981.9 847.0 L993.8 844.1 L1005.6 841.1 L1017.5 838.2 L1029.3 835.4 L1041.2 832.5 L1053.0 829.6 L1064.8 826.7 L1076.7 823.9 L1088.5 821.1 L1100.4 818.2 L1112.2 815.4 L1124.1 812.6 L1135.9 809.8 L1147.8 807.0 L1159.6 804.2 L1171.5 801.5 L1183.3 798.7 L1195.2 796.0 L1207.0 793.2 L1218.8 790.5 L1230.7 787.8 L1242.5 785.1 L1254.4 782.4 L1266.2 779.7 L1278.1 777.1 L1289.9 774.4 L1301.8 771.7 L1313.6 769.1 L1325.5 766.5 L1337.3 763.9 L1349.2 761.3 L1361.0 758.7 L1372.8 756.1 L1384.7 753.5 L1396.5 750.9 L1408.4 748.4 L1420.2 745.8 L1432.1 743.3 L1443.9 740.8 L1455.8 738.3 L1467.6 735.8 L1479.5 733.3 L1491.3 730.8 L1503.2 728.4 L1515.0 725.9 L1526.8 723.5 L1538.7 721.1 L1550.5 718.6 L1562.4 716.2 L1574.2 713.8 L1586.1 711.5 L1597.9 709.1 L1609.8 706.7 L1621.6 704.4 L1633.5 702.0 L1645.3 699.7 L1657.1 697.4 L1669.0 695.1 L1680.8 692.8 L1692.7 690.5 L1704.5 688.2 L1716.4 686.0 L1728.2 683.7 L1740.1 681.5 L1751.9 679.3 L1763.8 677.1 L1775.6 674.9 L1787.5 672.7 L1799.3 670.5 L1811.1 668.3 L1823.0 666.2 L1834.8 664.0 L1846.7 661.9 L1858.5 659.8 L1870.4 657.7 L1882.2 655.6 L1894.1 653.5 L1905.9 651.4 L1917.8 649.4 L1929.6 647.3 L1941.5 645.3 L1953.3 643.3" fill="none" stroke="#000" stroke-width="3.2"/>
<path d="M306.7 1000.3 L318.5 997.0 L330.4 993.8 L342.2 990.6 L354.1 987.4 L365.9 984.2 L377.8 981.0 L389.6 977.8 L401.5 974.7 L413.3 971.5 L425.2 968.3 L437.0 965.2 L448.9 962.1 L460.7 959.0 L472.5 955.8 L484.4 952.7 L496.2 949.6 L508.1 946.6 L519.9 943.5 L531.8 940.4 L543.6 937.4 L555.5 934.3 L567.3 931.3 L579.2 928.2 L591.0 925.2 L602.9 922.2 L614.7 919.2 L626.5 916.2 L638.4 913.2 L650.2 910.2 L662.1 907.3 L673.9 904.3 L685.8 901.4 L697.6 898.4 L709.5 895.5 L721.3 892.6 L733.2 889.7 L745.0 886.8 L756.8 883.9 L768.7 881.0 L780.5 878.1 L792.4 875.2 L804.2 872.4 L816.1 869.5 L827.9 866.7 L839.8 863.8 L851.6 861.0 L863.5 858.2 L875.3 855.4 L887.2 852.6 L899.0 849.8 L910.8 847.0 L922.7 844.2 L934.5 841.5 L946.4 838.7 L958.2 836.0 L970.1 833.2 L981.9 830.5 L993.8 827.8 L1005.6 825.1 L1017.5 822.4 L1029.3 819.7 L1041.2 817.0 L1053.0 814.3 L1064.8 811.6 L1076.7 809.0 L1088.5 806.3 L1100.4 803.7 L1112.2 801.0 L1124.1 798.4 L1135.9 795.8 L1147.8 793.2 L1159.6 790.6 L1171.5 788.0 L1183.3 785.4 L1195.2 782.8 L1207.0 780.3 L1218.8 777.7 L1230.7 775.2 L1242.5 772.6 L1254.4 770.1 L1266.2 767.5 L1278.1 765.0 L1289.9 762.5 L1301.8 760.0 L1313.6 757.5 L1325.5 755.0 L1337.3 752.6 L1349.2 750.1 L1361.0 747.6 L1372.8 745.2 L1384.7 742.7 L1396.5 740.3 L1408.4 737.9 L1420.2 735.5 L1432.1 733.1 L1443.9 730.7 L1455.8 728.3 L1467.6 725.9 L1479.5 723.5 L1491.3 721.1 L1503.2 718.8 L1515.0 716.4 L1526.8 714.1 L1538.7 711.7 L1550.5 709.4 L1562.4 707.1 L1574.2 704.8 L1586.1 702.5 L1597.9 700.2 L1609.8 697.9 L1621.6 695.6 L1633.5 693.3 L1645.3 691.1 L1657.1 688.8 L1669.0 686.6 L1680.8 684.3 L1692.7 682.1 L1704.5 679.9 L1716.4 677.6 L1728.2 675.4 L1740.1 673.2 L1751.9 671.0 L1763.8 668.9 L1775.6 666.7 L1787.5 664.5 L1799.3 662.3 L1811.1 660.2 L1823.0 658.0 L1834.8 655.9 L1846.7 653.8 L1858.5 651.6 L1870.4 649.5 L1882.2 647.4 L1894.1 645.3 L1905.9 643.2 L1917.8 641.1 L1929.6 639.1 L1941.5 637.0 L1953.3 634.9" fill="none" stroke="#f00" stroke-width="3.2"/>
<path d="M306.7 1048.8 L318.5 1045.3 L330.4 1041.8 L342.2 1038.3 L354.1 1034.9 L365.9 1031.4 L377.8 1027.9 L389.6 1024.5 L401.5 1021.0 L413.3 1017.6 L425.2 1014.2 L437.0 1010.8 L448.9 1007.4 L460.7 1004.0 L472.5 1000.6 L484.4 997.2 L496.2 993.8 L508.1 990.5 L519.9 987.1 L531.8 983.8 L543.6 980.5 L555.5 977.1 L567.3 973.8 L579.2 970.5 L591.0 967.2 L602.9 964.0 L614.7 960.7 L626.5 957.4 L638.4 954.2 L650.2 950.9 L662.1 947.7 L673.9 944.5 L685.8 941.3 L697.6 938.1 L709.5 934.9 L721.3 931.7 L733.2 928.5 L745.0 925.4 L756.8 922.2 L768.7 919.1 L780.5 915.9 L792.4 912.8 L804.2 909.7 L816.1 906.6 L827.9 903.5 L839.8 900.4 L851.6 897.3 L863.5 894.3 L875.3 891.2 L887.2 888.2 L899.0 885.1 L910.8 882.1 L922.7 879.1 L934.5 876.1 L946.4 873.1 L958.2 870.1 L970.1 867.1 L981.9 864.2 L993.8 861.2 L1005.6 858.3 L1017.5 855.3 L1029.3 852.4 L1041.2 849.5 L1053.0 846.6 L1064.8 843.7 L1076.7 840.8 L1088.5 838.0 L1100.4 835.1 L1112.2 832.2 L1124.1 829.4 L1135.9 826.6 L1147.8 823.7 L1159.6 820.9 L1171.5 818.1 L1183.3 815.3 L1195.2 812.6 L1207.0 809.8 L1218.8 807.0 L1230.7 804.3 L1242.5 801.5 L1254.4 798.8 L1266.2 796.1 L1278.1 793.4 L1289.9 790.7 L1301.8 788.0 L1313.6 785.3 L1325.5 782.6 L1337.3 780.0 L1349.2 777.3 L1361.0 774.7 L1372.8 772.1 L1384.7 769.5 L1396.5 766.9 L1408.4 764.3 L1420.2 761.7 L1432.1 759.1 L1443.9 756.5 L1455.8 754.0 L1467.6 751.4 L1479.5 748.9 L1491.3 746.4 L1503.2 743.9 L1515.0 741.4 L1526.8 738.9 L1538.7 736.4 L1550.5 733.9 L1562.4 731.5 L1574.2 729.0 L1586.1 726.6 L1597.9 724.2 L1609.8 721.8 L1621.6 719.4 L1633.5 717.0 L1645.3 714.6 L1657.1 712.2 L1669.0 709.8 L1680.8 707.5 L1692.7 705.2 L1704.5 702.8 L1716.4 700.5 L1728.2 698.2 L1740.1 695.9 L1751.9 693.6 L1763.8 691.3 L1775.6 689.1 L1787.5 686.8 L1799.3 684.6 L1811.1 682.3 L1823.0 680.1 L1834.8 677.9 L1846.7 675.7 L1858.5 673.5 L1870.4 671.3 L1882.2 669.2 L1894.1 667.0 L1905.9 664.9 L1917.8 662.7 L1929.6 660.6 L1941.5 658.5 L1953.3 656.4" fill="none" stroke="#0f0" stroke-width="3.2"/>
<g fill="#000"><rect x="368.1" y="151.6" width="17.0" height="16.5"/></g>
<g fill="#f00"><circle cx="376.6" cy="206.6" r="9.6"/></g>
<g fill="#0f0"><path d="M377.2 240.6 L388.3 260 H366.1 Z"/></g>
<g fill="#fff" stroke="#000" stroke-width="2"><rect x="466.1" y="152.7" width="15" height="14.4"/><rect x="583.0" y="152.7" width="15" height="14.4"/><path d="M583.0 159.9 h15 M590.5 152.7 v14.4"/></g>
<g fill="#fff" stroke="#f00" stroke-width="2"><circle cx="473.1" cy="206.6" r="8.8"/><circle cx="590.7" cy="206.6" r="8.8"/><path d="M581.9 206.6 h17.6 M590.7 197.8 v17.6"/></g>
<g fill="#fff" stroke="#0f0" stroke-width="2"><path d="M473.4 242.8 L482.6 258.9 H464.2 Z"/><path d="M591 242.8 L600.2 258.9 H581.8 Z"/><path d="M578 254 h25.5 M591 241 V266"/></g>
<g fill="none" stroke-width="3"><path d="M333 300.3 H421" stroke="#000"/><path d="M429.5 300.3 H518" stroke="#f00"/><path d="M547 300.3 H635" stroke="#0f0"/></g>
</g>
<g stroke="#000" stroke-width="6" stroke-linecap="round" fill="none">
<path d="M277.0 58.9 V1404.1"/>
<path d="M277.0 1404.1 H1953.0"/>
<path d="M277.0 58.9 H250"/>
<path d="M277.0 372.8 H263"/>
<path d="M277.0 293.7 H263"/>
<path d="M277.0 237.6 H263"/>
<path d="M277.0 194.1 H263"/>
<path d="M277.0 158.5 H263"/>
<path d="M277.0 128.5 H263"/>
<path d="M277.0 102.4 H263"/>
<path d="M277.0 79.4 H263"/>
<path d="M277.0 508.0 H250"/>
<path d="M277.0 820.6 H263"/>
<path d="M277.0 741.8 H263"/>
<path d="M277.0 686.0 H263"/>
<path d="M277.0 642.6 H263"/>
<path d="M277.0 607.2 H263"/>
<path d="M277.0 577.3 H263"/>
<path d="M277.0 551.3 H263"/>
<path d="M277.0 528.5 H263"/>
<path d="M277.0 955.2 H250"/>
<path d="M277.0 1269.0 H263"/>
<path d="M277.0 1189.9 H263"/>
<path d="M277.0 1133.8 H263"/>
<path d="M277.0 1090.3 H263"/>
<path d="M277.0 1054.8 H263"/>
<path d="M277.0 1024.7 H263"/>
<path d="M277.0 998.7 H263"/>
<path d="M277.0 975.7 H263"/>
<path d="M277.0 1404.1 H250"/>
<path d="M307.0 1404.1 V1430.2"/>
<path d="M459.4 1404.1 V1417.2"/>
<path d="M611.8 1404.1 V1430.2"/>
<path d="M764.1 1404.1 V1417.2"/>
<path d="M916.5 1404.1 V1430.2"/>
<path d="M1068.9 1404.1 V1417.2"/>
<path d="M1221.3 1404.1 V1430.2"/>
<path d="M1373.7 1404.1 V1417.2"/>
<path d="M1526.1 1404.1 V1430.2"/>
<path d="M1678.4 1404.1 V1417.2"/>
<path d="M1830.8 1404.1 V1430.2"/>
</g>
<g font-family="Liberation Sans, Arial, sans-serif" fill="#000">
<text x="307.5" y="1492.3" font-size="55.5" letter-spacing="1" text-anchor="middle">0</text>
<text x="612.3" y="1492.3" font-size="55.5" letter-spacing="1" text-anchor="middle">500</text>
<text x="917.0" y="1492.3" font-size="55.5" letter-spacing="1" text-anchor="middle">1000</text>
<text x="1221.8" y="1492.3" font-size="55.5" letter-spacing="1" text-anchor="middle">1500</text>
<text x="1526.6" y="1492.3" font-size="55.5" letter-spacing="1" text-anchor="middle">2000</text>
<text x="1831.3" y="1492.3" font-size="55.5" letter-spacing="1" text-anchor="middle">2500</text>
<text x="149.7" y="81.3" font-size="55.5" letter-spacing="1">10</text>
<text x="212" y="53.7" font-size="36.5">0</text>
<text x="138.6" y="530.4" font-size="55.5" letter-spacing="1">10</text>
<text x="201.1" y="502.8" font-size="36.5" textLength="13.9" lengthAdjust="spacingAndGlyphs">-</text>
<text x="212" y="502.8" font-size="36.5">1</text>
<text x="138.6" y="977.6" font-size="55.5" letter-spacing="1">10</text>
<text x="201.1" y="950.0" font-size="36.5" textLength="13.9" lengthAdjust="spacingAndGlyphs">-</text>
<text x="212" y="950.0" font-size="36.5">2</text>
<text x="138.6" y="1426.5" font-size="55.5" letter-spacing="1">10</text>
<text x="201.1" y="1398.9" font-size="36.5" textLength="13.9" lengthAdjust="spacingAndGlyphs">-</text>
<text x="212" y="1398.9" font-size="36.5">3</text>
<text x="1008.2" y="1604" font-size="70.5">P (bar)</text>
<text transform="translate(88.9 912.5) rotate(-90) scale(1.205 1)" font-size="70.5">η</text>
<text transform="translate(88.9 846.4) rotate(-90)" font-size="70.5">(Pa·s)</text>
<text x="344.3" y="126.4" font-size="37.3" letter-spacing="0.5">60º</text>
<text x="434.6" y="126.4" font-size="37.3" letter-spacing="0.5">100ºC</text>
<text x="561.6" y="126.4" font-size="37.3" letter-spacing="0.5">140ºC</text>
<text x="655.1" y="172.6" font-size="37.3" letter-spacing="0.5">R106S</text>
<text x="655.1" y="219.5" font-size="37.3" letter-spacing="0.5">R805S</text>
<text x="655.1" y="266.5" font-size="37.3" letter-spacing="0.5">R974S</text>
<text x="646.8" y="313.9" font-size="37.3" letter-spacing="0.5">VTF model</text>
</g>
</svg>
</body></html>
